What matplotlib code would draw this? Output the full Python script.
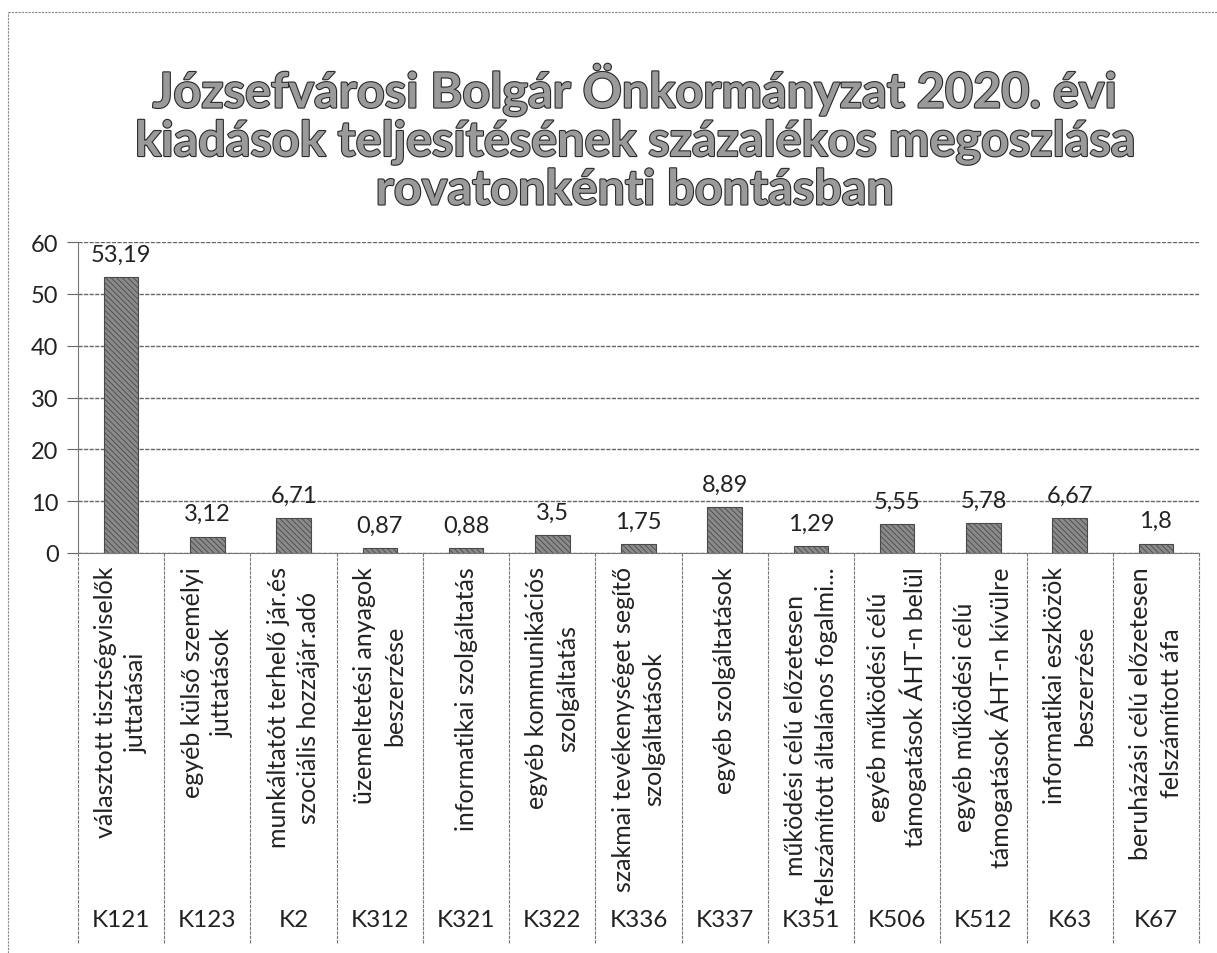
import matplotlib
matplotlib.use("Agg")
import matplotlib.pyplot as plt
import matplotlib.patheffects as pe
from matplotlib.transforms import blended_transform_factory
from matplotlib.lines import Line2D

plt.rcParams['font.family'] = ['Lato', 'DejaVu Sans']
plt.rcParams['hatch.linewidth'] = 0.6

# data
codes = ['K121', 'K123', 'K2', 'K312', 'K321', 'K322', 'K336', 'K337',
         'K351', 'K506', 'K512', 'K63', 'K67']
names = [
    'választott tisztségviselők\njuttatásai',
    'egyéb külső személyi\njuttatások',
    'munkáltatót terhelő jár.és\nszociális hozzájár.adó',
    'üzemeltetési anyagok\nbeszerzése',
    'informatikai szolgáltatás',
    'egyéb kommunikációs\nszolgáltatás',
    'szakmai tevékenységet segítő\nszolgáltatások',
    'egyéb szolgáltatások',
    'működési célú előzetesen\nfelszámított általános fogalmi...',
    'egyéb működési célú\ntámogatások ÁHT-n belül',
    'egyéb működési célú\ntámogatások ÁHT-n kívülre',
    'informatikai eszközök\nbeszerzése',
    'beruházási célú előzetesen\nfelszámított áfa',
]
values = [53.19, 3.12, 6.71, 0.87, 0.88, 3.5, 1.75, 8.89, 1.29, 5.55, 5.78, 6.67, 1.8]

title = ('Józsefvárosi Bolgár Önkormányzat 2020. évi\n'
         'kiadások teljesítésének százalékos megoszlása\n'
         'rovatonkénti bontásban')

W, H = 1217, 954
fig = plt.figure(figsize=(W / 100, H / 100), dpi=100)

# outer chart border (left + top)
fig.add_artist(Line2D([8 / W, 8 / W], [0, 1 - 13 / H], transform=fig.transFigure,
                      color='#888888', lw=0.8, ls=(0, (2, 1))))
fig.add_artist(Line2D([8 / W, 1], [1 - 13 / H, 1 - 13 / H], transform=fig.transFigure,
                      color='#888888', lw=0.8, ls=(0, (2, 1))))

# title
fig.text(635 / W, 1 - 138 / H, title, ha='center', va='center', fontsize=35,
         fontweight='bold', color='#9a9a9a', linespacing=1.08,
         path_effects=[pe.withStroke(linewidth=1.6, foreground='#2a2a2a')])

left, right = 78 / W, 1199 / W
y0_px, y60_px = 554, 243
ax = fig.add_axes([left, 1 - y0_px / H, right - left, (y0_px - y60_px) / H])

x = list(range(len(codes)))
ax.bar(x, values, width=0.4, color='#8a8a8a', edgecolor='#4a4a4a',
       hatch='\\\\\\\\\\\\', linewidth=0.8, zorder=3)

for xi, v in zip(x, values):
    lbl = ('%g' % v).replace('.', ',')
    ax.annotate(lbl, (xi, v), xytext=(0, 9), textcoords='offset points',
                ha='center', va='bottom', fontsize=17, color='#222222')

ax.set_xlim(-0.5, len(codes) - 0.5)
ax.set_ylim(0, 60)
ax.set_yticks(range(0, 61, 10))
ax.tick_params(axis='y', labelsize=17, length=8, width=0.8, color='#666666',
               labelcolor='#222222', pad=6)
ax.set_xticks([])
ax.grid(axis='y', color='#666666', lw=1.0, ls=(0, (3, 1)), zorder=0)
for s in ['top', 'right']:
    ax.spines[s].set_visible(False)
ax.spines['left'].set_color('#777777')
ax.spines['bottom'].set_color('#777777')

# category axis area
trans = blended_transform_factory(ax.transData, ax.transAxes)
bottom_frac = (y0_px - 945) / (y0_px - y60_px)
for i in range(len(codes) + 1):
    ax.plot([i - 0.5, i - 0.5], [0, bottom_frac], transform=trans, clip_on=False,
            color='#777777', lw=0.8, ls=(0, (3, 1)))

name_y = (y0_px - 567) / (y0_px - y60_px)
code_y = (y0_px - 921) / (y0_px - y60_px)
for xi, nm, cd in zip(x, names, codes):
    ax.text(xi, name_y, nm, transform=trans, rotation=90, ha='center', va='top',
            multialignment='center', fontsize=18, color='#222222', linespacing=1.4)
    ax.text(xi, code_y, cd, transform=trans, ha='center', va='center',
            fontsize=17.5, color='#222222')

fig.savefig('out.png', dpi=100)
